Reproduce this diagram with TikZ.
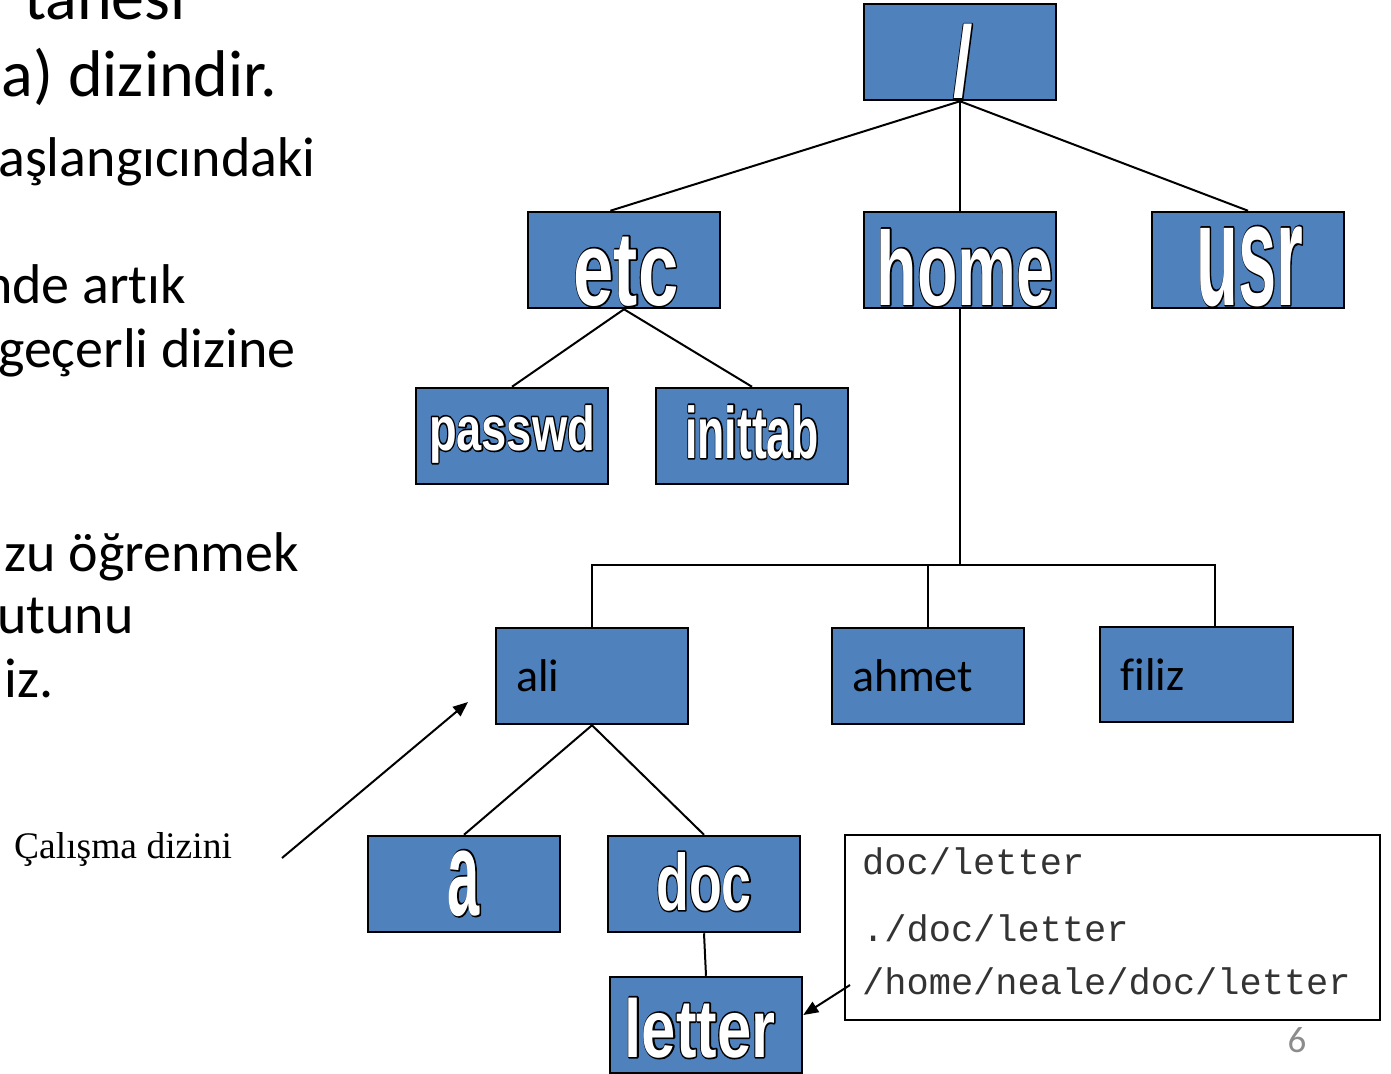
\documentclass[tikz,border=0pt]{standalone}
\usepackage{fontspec}
\usepackage{graphicx}
\usetikzlibrary{arrows.meta,calc}
\newfontfamily\calib[Ligatures=NoCommon]{Carlito}
\newfontfamily\arialf{Liberation Sans}
\newfontfamily\timesf{Liberation Serif}
\newfontfamily\monof{Liberation Mono}
\definecolor{boxblue}{RGB}{79,129,189}
% #1 size, #2 horizontal scale, #3 text, #4 raise
\newcommand{\blbl}[4]{\smash{\raisebox{#4pt}{\scalebox{#2}[1]{\fontsize{#1pt}{#1pt}\selectfont\arialf\bfseries\color{white}\rlap{\special{pdf:code 1 Tr 0 0 0 RG 3.4 w 1 j}#3\special{pdf:code 0 Tr}}#3}}}}
\tikzset{
  dirbox/.style={draw=black, line width=2.5pt, fill=boxblue, minimum width=192pt, minimum height=96pt, inner sep=0pt},
  namebox/.style={dirbox, text width=152pt, align=left, font=\calib\fontsize{46pt}{46pt}\selectfont},
  conn/.style={line width=2pt, draw=black},
  arr/.style={line width=2pt, draw=black, -{Triangle[length=15pt,width=12pt]}},
  slidetext/.style={anchor=base east, inner sep=0pt, font=\calib\fontsize{56pt}{56pt}\selectfont, text=black}
}
\begin{document}
\begin{tikzpicture}[x=1pt,y=-1pt]
\useasboundingbox (0,0) rectangle (1391,1073);
% slide text (cut at left edge)
\node[slidetext, font=\calib\fontsize{66pt}{66pt}\selectfont] (t0) at (186,20) {tanesi};
\node[slidetext, font=\calib\fontsize{66pt}{66pt}\selectfont] (t1) at (277,96) {a) dizindir.};
\node[slidetext] (t2) at (316,176) {aşlangıcındaki};
\node[slidetext] (t3) at (186,303) {nde artık};
\node[slidetext] (t4) at (296,367) {geçerli dizine};
\node[slidetext] (t5) at (299,571) {zu öğrenmek};
\node[slidetext] (t6) at (134,633) {utunu};
\node[slidetext] (t7) at (54,697) {iz.};
% tree boxes
\node[dirbox] (root) at (960,52) {\hspace*{6pt}\blbl{100}{0.7}{/}{-45}};
\node[dirbox] (etc) at (624,260) {\hspace*{4pt}\blbl{105}{0.69}{etc}{-45}};
\node[dirbox] (home) at (960,260) {\hspace*{10pt}\blbl{105}{0.63}{home}{-45}};
\node[dirbox] (usr) at (1248,260) {\hspace*{4pt}\blbl{146}{0.47}{usr}{-45}};
\node[dirbox] (passwd) at (512,436) {\blbl{62}{0.73}{passwd}{-14}};
\node[dirbox] (inittab) at (752,436) {\blbl{73}{0.61}{inittab}{-22}};
\node[namebox] (ali) at (592,676) {ali};
\node[namebox] (ahmet) at (928,676) {ahmet};
\node[namebox, minimum width=193pt, minimum height=95pt] (filiz) at (1196.5,674.5) {filiz};
\node[dirbox] (na) at (464,884) {\blbl{120}{0.48}{a}{-31}};
\node[dirbox] (doc) at (704,884) {\blbl{80}{0.67}{doc}{-26}};
\node[dirbox] (letter) at (706,1025) {\blbl{82}{0.75}{letter}{-32}\hspace*{12pt}};
% connectors
\draw[conn] (root.south) -- ($(etc.north west)!0.43!(etc.north east)$);
\draw[conn] (root.south) -- (home.north);
\draw[conn] (root.south) -- (usr.north);
\draw[conn] (etc.south) -- (passwd.north);
\draw[conn] (etc.south) -- (inittab.north);
\coordinate (hub) at (960,565);
\draw[conn] (home.south) -- (hub);
\draw[conn] (ali.north) |- (hub) -| ($(filiz.north)+(18.5,0)$);
\draw[conn] (ahmet.north) -- (ahmet.north |- hub);
\draw[conn] (ali.south) -- (na.north);
\draw[conn] (ali.south) -- (doc.north);
\draw[conn] (doc.south) -- (letter.north);
% working directory label
\node[anchor=base west, inner sep=0pt, font=\timesf\fontsize{37.5pt}{37.5pt}\selectfont] (cwd) at (14,858) {Çalışma dizini};
\coordinate (cwdtail) at (282,858);
\coordinate (cwdhead) at (468,702);
\draw[arr] (cwdtail) -- (cwdhead);
% path box
\node[draw=black, line width=2.5pt, minimum width=535pt, minimum height=185pt, inner sep=0pt] (paths) at (1112.5,927.5) {};
\node[anchor=base west, inner sep=0pt, font=\monof\fontsize{37pt}{37pt}\selectfont, text=black!80] (p1) at (862,874) {doc/letter};
\node[anchor=base west, inner sep=0pt, font=\monof\fontsize{37pt}{37pt}\selectfont, text=black!80] (p2) at (862,941) {./doc/letter};
\node[anchor=base west, inner sep=0pt, font=\monof\fontsize{37pt}{37pt}\selectfont, text=black!80] (p3) at (862,994) {/home/neale/doc/letter};
\coordinate (ptail) at (850,985);
\draw[arr] (ptail) -- (letter.east |- 0,1015);
% page number
\node[anchor=base, inner sep=0pt, font=\calib\fontsize{37pt}{37pt}\selectfont, text=black!45] (pg) at (1297,1052) {6};
\end{tikzpicture}
\end{document}
